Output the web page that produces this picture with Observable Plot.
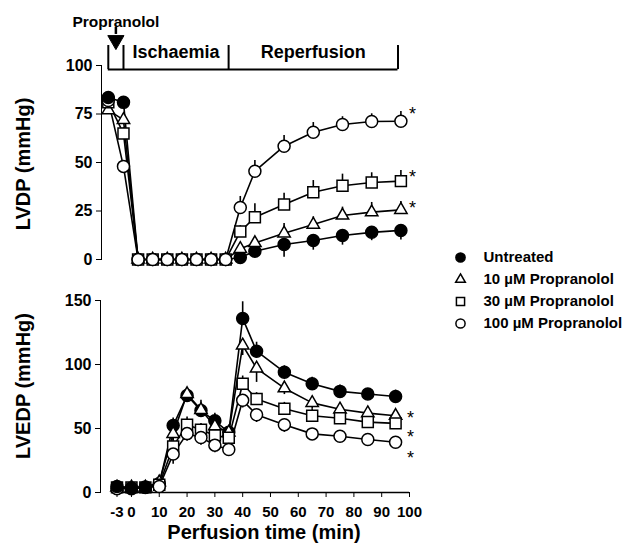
<!DOCTYPE html>
<html><head><meta charset="utf-8">
<script src="https://cdn.jsdelivr.net/npm/d3@7"></script>
<script src="https://cdn.jsdelivr.net/npm/@observablehq/plot@0.6"></script>
<style>
body{margin:0;background:#fff;}
#wrap{position:relative;width:626px;height:549px;overflow:hidden;font-family:"Liberation Sans",Arial,Helvetica,sans-serif;font-weight:bold;color:#000;}
#wrap svg{position:absolute;}
.title{position:absolute;font-size:20px;white-space:nowrap;line-height:1;transform:translate(-50%,-50%);}
.title.rot{transform:translate(-50%,-50%) rotate(-90deg);}
#wrap [aria-label^="y-axis"] text{font-size:16px;}
#wrap [aria-label^="x-axis"] text{font-size:15px;}
</style></head><body><div id="wrap"></div>
<script>
// ---------- data ----------
const times = [-3, 0, 5, 10, 15, 20, 25, 30, 35, 40, 45, 55, 65, 75, 85, 95];
const seriesNames = ["Untreated", "10 µM Propranolol", "30 µM Propranolol", "100 µM Propranolol"];
const seriesSymbols = ["circle", "triangle", "square", "circle"];
const seriesFills = ["black", "white", "white", "white"];

// LVDP (mmHg)
const lvdpUntreated = [83.5, 81, 0, 0, 0, 0, 0, 0, 0, 1, 4.3, 7.7, 9.8, 12.4, 14, 15];
const lvdp10 = [77, 72, 0, 0, 0, 0, 0, 0, 0, 5.5, 8.5, 13.5, 18, 22.7, 24.4, 25.6];
const lvdp30 = [81, 65, 0, 0, 0, 0, 0, 0, 0, 14.4, 21.8, 28.4, 34.7, 38, 39.7, 40.4];
const lvdp100 = [82, 48, 0, 0, 0, 0, 0, 0, 0, 26.8, 45.5, 58.4, 65.6, 69.6, 71.1, 71.3];
const lvdpSemUntreated = [2, 3, 0, 0, 0, 0, 0, 0, 0, 1, 3, 6.5, 5, 5, 4.3, 5];
const lvdpSem10 = [2, 3, 0, 0, 0, 0, 0, 0, 0, 2, 3, 5, 4, 4.3, 5, 4.3];
const lvdpSem30 = [2, 3, 0, 0, 0, 0, 0, 0, 0, 3, 7, 5.7, 6, 6, 5, 5.5];
const lvdpSem100 = [2, 3, 0, 0, 0, 0, 0, 0, 0, 5.7, 5.5, 5.5, 5, 4, 4, 5];
const lvdpErrDir = [-1, 1, 1, 1];

// LVEDP (mmHg)
const lvedpUntreated = [4.7, 3.6, 4.2, 7, 52.3, 75.8, 64, 56, 47, 136, 110.4, 94, 85, 79, 77, 75];
const lvedp10 = [4, 4, 4, 8, 45.8, 77, 64.6, 51.8, 47, 115, 97, 81.5, 70, 65, 62, 60];
const lvedp30 = [4, 4, 4, 6, 36, 53, 49, 44.5, 42.7, 85, 73, 65.4, 60, 58, 55, 54];
const lvedp100 = [3, 3, 4, 4.7, 30, 46, 43, 37, 33.6, 72, 60.7, 53, 45.8, 44, 41.4, 39.3];
const lvedpSemUntreated = [1, 1, 1, 2, 6, 5, 8, 6, 4, 13, 7, 5, 5, 5, 4, 5];
const lvedpSem10 = [1, 1, 1, 2, 6, 5, 6, 6, 4, 8, 11, 5, 5, 5, 5, 5];
const lvedpSem30 = [1, 1, 1, 2, 8, 6, 5, 5, 4, 6, 5, 5, 5, 5, 5, 5];
const lvedpSem100 = [1, 1, 1, 2, 8, 6, 6, 6, 5, 6, 6, 6, 5, 5, 5, 5];
const lvedpErrDir = [1, -1, 1, -1];

// significance markers (*)
const starTimeTop = 99;
const starValuesTop = [77.3, 44.8, 28.9];
const starTimeBottom = 100.4;
const starValuesBottom = [61.7, 46.9, 30.5];

// protocol bracket
const phaseLabels = ["", "Ischaemia", "Reperfusion"];
const phaseStarts = [-3, 0, 36];
const phaseEnds = [0, 36, 94];
const drugLabel = "Propranolol";
const drugTime = -1.5;

const xTicks = [-3, 0, 10, 20, 30, 40, 50, 60, 70, 80, 90, 100];
const lvdpTicks = [0, 25, 50, 75, 100];
const lvedpTicks = [0, 50, 100, 150];

// pre-drug interval is drawn stretched on the time axis (axis break)
const preStretch = 5.2 / 3;
const timeToAxis = t => (t < 0 ? t * preStretch : t);
const axisToTime = v => (v < 0 ? Math.round(v / preStretch) : v);
const xAxisStart = -3.75;

// ---------- build tables ----------
function buildRows(valueLists, semLists, dirs) {
  const rows = [];
  valueLists.forEach((vals, i) => {
    vals.forEach((v, j) => rows.push({series: seriesNames[i], idx: i, time: times[j], value: v, sem: semLists[i][j], dir: dirs[i]}));
  });
  return rows;
}
const topRows = buildRows([lvdpUntreated, lvdp10, lvdp30, lvdp100], [lvdpSemUntreated, lvdpSem10, lvdpSem30, lvdpSem100], lvdpErrDir);
const botRows = buildRows([lvedpUntreated, lvedp10, lvedp30, lvedp100], [lvedpSemUntreated, lvedpSem10, lvedpSem30, lvedpSem100], lvedpErrDir);

const markerR = {circle: 6, square: 6.2, triangle: 4.6};
const SW = 1.6;

function dotMark(rows, i) {
  return Plot.dot(rows, {
    x: "time", y: "value", symbol: seriesSymbols[i], r: markerR[seriesSymbols[i]],
    fill: seriesFills[i], stroke: "black", strokeWidth: 1.5
  });
}
function seriesMarks(rows, frontUntil) {
  const out = [];
  for (let i = 0; i < 4; i++) {
    out.push(Plot.line(rows.filter(d => d.idx === i), {x: "time", y: "value", stroke: "black", strokeWidth: SW}));
  }
  out.push(Plot.ruleX(rows.filter(d => d.sem > 0), {x: "time", y1: "value", y2: d => d.value + d.dir * d.sem, stroke: "black", strokeWidth: SW}));
  // layering: open markers above untreated, except untreated in front at the earliest points
  out.push(dotMark(rows.filter(d => d.idx === 0 && d.time > frontUntil), 0));
  for (const i of [1, 2, 3]) out.push(dotMark(rows.filter(d => d.idx === i), i));
  out.push(dotMark(rows.filter(d => d.idx === 0 && d.time <= frontUntil), 0));
  return out;
}

const baseStyle = {background: "none", fontFamily: '"Liberation Sans",Arial,Helvetica,sans-serif', fontSize: "16px", fontWeight: "bold", color: "black", overflow: "visible"};

const wrap = document.getElementById("wrap");

// ---------- top panel: LVDP ----------
const topPlot = Plot.plot({
  width: 626, height: 270,
  marginTop: 65, marginBottom: 11, marginLeft: 101, marginRight: 211,
  style: baseStyle,
  x: {domain: [timeToAxis(-3), 100], range: [107.8, 415], transform: timeToAxis, axis: null},
  y: {domain: [0, 100], ticks: lvdpTicks, tickSize: 5, tickPadding: 4, line: true, label: null},
  marks: [
    ...seriesMarks(topRows, 0),
    Plot.text(starValuesTop, {x: () => starTimeTop, y: d => d, text: () => "*", fontSize: 18, fontWeight: "normal", dy: 5}),
    // protocol bracket
    Plot.ruleY([97.9], {x1: phaseStarts[0], x2: phaseEnds[phaseEnds.length - 1], stroke: "black", strokeWidth: 2}),
    Plot.ruleX([...phaseStarts, phaseEnds[phaseEnds.length - 1]], {x: d => d, y1: 97.9, y2: 110.3, stroke: "black", strokeWidth: 2}),
    Plot.text(phaseLabels.map((l, i) => ({l, x: (phaseStarts[i] + phaseEnds[i]) / 2})).filter(d => d.l), {x: "x", y: 106.7, text: "l", fontSize: 18}),
    Plot.text([drugLabel], {x: drugTime, y: 122.5, text: d => d, fontSize: 15.5}),
    Plot.ruleX([drugTime], {y1: 116, y2: 119.6, stroke: "black", strokeWidth: 2.5}),
    Plot.dot([drugTime], {x: d => d, y: 113, symbol: "triangle", rotate: 180, r: 6, fill: "black", stroke: "black", strokeWidth: 1})
  ]
});
topPlot.style.left = "0px"; topPlot.style.top = "0px";
wrap.appendChild(topPlot);

// ---------- bottom panel: LVEDP ----------
const botPlot = Plot.plot({
  width: 626, height: 279,
  marginTop: 30, marginBottom: 57, marginLeft: 100, marginRight: 217,
  style: baseStyle,
  x: {domain: [timeToAxis(-3), 100], range: [116.5, 409], transform: timeToAxis,
      ticks: xTicks.map(timeToAxis), tickFormat: v => String(axisToTime(v)),
      tickSize: 5, tickPadding: 9, label: null},
  y: {domain: [0, 150], ticks: lvedpTicks, tickSize: 5, tickPadding: 4, line: true, label: null},
  marks: [
    Plot.ruleY([0], {x1: xAxisStart, x2: xTicks[xTicks.length - 1], stroke: "black", strokeWidth: 1.5}),
    ...seriesMarks(botRows, 5),
    Plot.text(starValuesBottom, {x: () => starTimeBottom, y: d => d, text: () => "*", fontSize: 18, fontWeight: "normal", dy: 5})
  ]
});
botPlot.style.left = "0px"; botPlot.style.top = "270px";
wrap.appendChild(botPlot);

// ---------- legend ----------
const legendRows = seriesNames.map((name, i) => ({name, i}));
const legendR = {circle: 4.6, square: 4.6, triangle: 3.6};
const legend = Plot.plot({
  width: 186, height: 100, margin: 0,
  style: baseStyle,
  x: {domain: [0, 1], range: [20, 43], axis: null},
  y: {type: "point", domain: seriesNames, range: [16, 83], padding: 0, axis: null},
  marks: [
    ...legendRows.map(d => Plot.dot([d], {x: 0, y: "name", symbol: seriesSymbols[d.i], r: legendR[seriesSymbols[d.i]], fill: seriesFills[d.i], stroke: "black", strokeWidth: 1.5})),
    Plot.text(legendRows, {x: 1, y: "name", text: "name", textAnchor: "start", fontSize: 15})
  ]
});
legend.style.left = "440px"; legend.style.top = "240px";
wrap.appendChild(legend);

// ---------- axis titles ----------
function addTitle(text, x, y, rot) {
  const el = document.createElement("div");
  el.className = "title" + (rot ? " rot" : "");
  el.textContent = text;
  el.style.left = x + "px"; el.style.top = y + "px";
  wrap.appendChild(el);
}
addTitle("LVDP (mmHg)", 23, 164, true);
addTitle("LVEDP (mmHg)", 23, 386, true);
addTitle("Perfusion time (min)", 264, 532, false);
</script>
</body></html>
